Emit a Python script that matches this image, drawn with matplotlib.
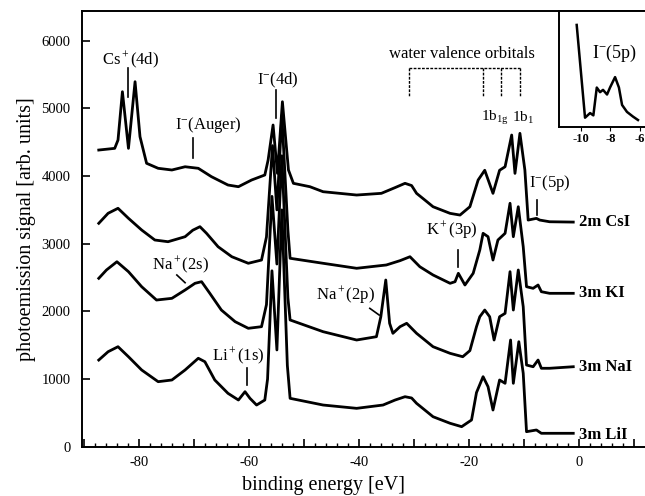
#!/usr/bin/env python3
"""
Valence / shallow-core photoemission spectra of aqueous alkali iodides.
Recreated from the published figure; values read off the plot.
"""
import numpy as np
import matplotlib.pyplot as plt

plt.rcParams["font.family"] = ["Liberation Serif", "DejaVu Serif"]
plt.rcParams["mathtext.fontset"] = "custom"
plt.rcParams["mathtext.rm"] = "Liberation Serif"
plt.rcParams["mathtext.it"] = "Liberation Serif:italic"
plt.rcParams["mathtext.bf"] = "Liberation Serif:bold"
plt.rcParams["axes.unicode_minus"] = False

# --- Spectra (binding energy [eV], signal [arb. units]) ---
csi_e = [-87.4, -84.5, -83.9, -83.1, -82.0, -80.8, -79.9, -78.7, -76.6, -74.1,
         -71.7, -69.3, -66.9, -63.9, -62.0, -59.6, -57.2, -56.6, -55.7, -54.9,
         -54.0, -52.9, -52.0, -49.0, -46.6, -40.5, -36.0, -33.5, -31.7, -30.5,
         -29.6, -28.0, -26.6, -23.5, -21.7, -19.9, -18.4, -17.2, -15.7, -14.5,
         -13.5, -12.3, -11.7, -10.8, -9.9, -9.3, -7.8, -7.2, -5.4, -1.1]
csi_i = [4385, 4410, 4533, 5247, 4410, 5395, 4582, 4189, 4115, 4090,
         4138, 4115, 3991, 3868, 3843, 3942, 4016, 4237, 4755, 4040,
         5099, 4090, 3893, 3843, 3769, 3720, 3745, 3830, 3893, 3860,
         3745, 3640, 3547, 3449, 3424, 3547, 3942, 4086, 3745, 4086,
         4138, 4607, 4040, 4632, 4090, 3350, 3375, 3350, 3325, 3320]

ki_e = [-87.4, -85.7, -83.9, -82.0, -79.6, -77.2, -74.8, -71.7, -70.3, -69.0,
        -67.8, -65.7, -63.2, -60.2, -57.8, -56.9, -55.8, -55.0, -54.1, -53.0,
        -52.6, -46.6, -40.5, -35.1, -32.6, -30.8, -29.0, -26.6, -23.5, -22.6,
        -22.0, -20.8, -19.3, -18.1, -17.5, -16.6, -15.7, -14.8, -13.5, -12.6,
        -12.0, -11.1, -10.2, -9.6, -8.4, -7.5, -6.9, -5.4, -1.1]
ki_i = [3302, 3450, 3524, 3376, 3203, 3055, 3030, 3104, 3200, 3252,
        3154, 2956, 2808, 2711, 2759, 3100, 4450, 3500, 4900, 3200,
        2785, 2711, 2637, 2686, 2750, 2808, 2660, 2538, 2415, 2439,
        2563, 2390, 2563, 2907, 3154, 3104, 2759, 3055, 3154, 3598,
        3104, 3547, 2956, 2365, 2341, 2390, 2291, 2267, 2267]

nai_e = [-87.4, -86.0, -84.1, -82.0, -79.6, -76.9, -74.1, -71.7, -69.9, -68.7,
         -67.2, -65.1, -62.6, -60.2, -57.8, -56.9, -55.9, -55.0, -54.1, -53.0,
         -52.6, -46.6, -40.5, -36.9, -36.1, -35.2, -34.5, -33.9, -32.6, -31.4,
         -29.6, -26.6, -23.5, -21.2, -19.9, -18.7, -18.1, -17.2, -16.3, -15.5,
         -14.5, -13.5, -12.6, -12.0, -11.1, -10.2, -9.6, -8.4, -7.5, -6.9,
         -5.4, -1.1]
nai_i = [2489, 2612, 2734, 2587, 2365, 2168, 2193, 2316, 2415, 2439,
         2267, 2020, 1848, 1750, 1774, 2100, 3700, 2700, 4300, 2200,
         1873, 1700, 1577, 1626, 1921, 2464, 1824, 1676, 1774, 1824,
         1676, 1478, 1380, 1330, 1420, 1774, 1921, 2020, 1921, 1577,
         1921, 1971, 2587, 2020, 2612, 2069, 1207, 1182, 1281, 1159,
         1159, 1182]

lii_e = [-87.4, -85.7, -83.9, -82.0, -79.6, -76.6, -74.1, -71.7, -69.3, -68.1,
         -66.3, -63.9, -62.0, -60.8, -59.9, -58.7, -57.2, -56.7, -55.9, -55.0,
         -54.1, -53.1, -52.6, -46.6, -40.5, -35.7, -33.5, -31.7, -30.5, -29.6,
         -26.6, -23.5, -21.4, -19.6, -18.7, -17.5, -16.6, -15.7, -14.5, -13.5,
         -12.5, -12.0, -11.0, -10.2, -9.6, -7.8, -6.9, -1.1]
lii_i = [1281, 1404, 1478, 1330, 1134, 961, 986, 1134, 1307, 1256,
         986, 789, 690, 813, 715, 616, 690, 1000, 2600, 1430,
         3500, 1200, 715, 616, 567, 616, 690, 739, 720, 641,
         443, 346, 296, 395, 800, 1035, 887, 542, 986, 937,
         1577, 937, 1552, 1085, 222, 247, 198, 198]

# inset: I-(5p) region, CsI
inset_e = [-10.26, -9.70, -9.36, -9.14, -8.91, -8.69, -8.49, -8.22, -8.02,
           -7.68, -7.42, -7.21, -6.88, -6.48, -6.14]
inset_i = [88, 8, 12, 10, 34, 30, 32, 28, 34, 43, 34, 19, 13, 9, 6]

spectra = [(csi_e, csi_i, "2m CsI", 3321), (ki_e, ki_i, "3m KI", 2267),
           (nai_e, nai_i, "3m NaI", 1182), (lii_e, lii_i, "3m LiI", 173)]

fig = plt.figure(figsize=(6.45, 4.96), dpi=100)
ax = fig.add_axes([0.1267, 0.0994, 0.878, 0.8784])

for e, i, name, ylab in spectra:
    ax.plot(e, i, color="black", lw=2.0, solid_joinstyle="round")
    ax.text(-0.1, ylab, name, fontsize=12, fontweight="bold", ha="left", va="center")

ax.set_xlim(-90.5, 12.5)
ax.set_ylim(0, 6440)
xt = np.arange(-90, 11, 10)
ax.set_xticks(xt)
ax.set_xticklabels([str(v) if v % 20 == 0 else "" for v in xt])
ax.set_xticks(np.arange(-90, 12, 2), minor=True)
ax.set_yticks(np.arange(0, 6001, 1000))
ax.tick_params(axis="both", which="both", direction="in", labelsize=10.5)
ax.tick_params(axis="both", which="major", length=6, width=1.2)
ax.tick_params(axis="x", which="major", pad=7)
ax.tick_params(axis="y", which="major", pad=8)
ax.tick_params(axis="x", which="minor", length=3, width=1.0)
ax.tick_params(axis="y", which="minor", left=False)
for s in ax.spines.values():
    s.set_linewidth(1.4)
ax.spines["right"].set_visible(False)

ax.set_ylabel("photoemission signal [arb. units]", fontsize=14.5, labelpad=4)
fig.text(323 / 645, 0.022, "binding energy [eV]", fontsize=14.5, ha="center", va="center")

# peak labels with marker ticks
lab_fs = 12
ax.text(-81.7, 5715, r"Cs$^+$(4d)", fontsize=lab_fs, ha="center", va="center")
ax.plot([-82.1, -82.1], [5593, 5173], color="black", lw=1.2)
ax.text(-67.5, 4755, r"I$^{-}$(Auger)", fontsize=lab_fs, ha="center", va="center")
ax.plot([-70.2, -70.2], [4558, 4263], color="black", lw=1.2)
ax.text(-54.9, 5420, r"I$^{-}$(4d)", fontsize=lab_fs, ha="center", va="center")
ax.plot([-55.1, -55.1], [5272, 4854], color="black", lw=1.2)
ax.text(-5.4, 3898, r"I$^{-}$(5p)", fontsize=lab_fs, ha="center", va="center")
ax.plot([-7.7, -7.7], [3646, 3424], color="black", lw=1.2)
ax.text(-23.2, 3203, r"K$^+$(3p)", fontsize=lab_fs, ha="center", va="center")
ax.plot([-22.0, -22.0], [2907, 2660], color="black", lw=1.2)
ax.text(-72.5, 2686, r"Na$^+$(2s)", fontsize=lab_fs, ha="center", va="center")
ax.plot([-73.2, -71.7], [2538, 2424], color="black", lw=1.2)
ax.text(-42.6, 2242, r"Na$^+$(2p)", fontsize=lab_fs, ha="center", va="center")
ax.plot([-38.1, -36.4], [2045, 1946], color="black", lw=1.2)
ax.text(-62.1, 1330, r"Li$^+$(1s)", fontsize=lab_fs, ha="center", va="center")
ax.plot([-60.5, -60.5], [1159, 912], color="black", lw=1.2)

# water valence orbitals bracket
ax.text(-21.4, 5800, "water valence orbitals", fontsize=lab_fs, ha="center", va="center")
ax.plot([-31.0, -10.8], [5602, 5602], color="black", lw=1.0, ls=(0, (2, 1)))
for xv in [-31.0, -17.5, -14.3, -10.8]:
    ax.plot([xv, xv], [5602, 5173], color="black", lw=1.0, ls=(0, (2, 1)))
ax.text(-15.4, 4858, r"1b$_{\mathrm{1g}}$", fontsize=11, ha="center", va="center")
ax.text(-10.3, 4858, r"1b$_1$", fontsize=11, ha="center", va="center")

# inset
axi = fig.add_axes([559 / 645, 0.744, 0.1395, 0.2338])
axi.plot(inset_e, inset_i, color="black", lw=1.8)
axi.set_xlim(-11.45, -5.4)
axi.set_ylim(0, 100)
axi.set_xticks([-10, -8, -6])
axi.set_yticks([])
axi.tick_params(axis="x", direction="out", length=3, labelsize=9, pad=1)
for lbl in axi.get_xticklabels():
    lbl.set_fontweight("bold")
for s in axi.spines.values():
    s.set_linewidth(1.4)
axi.spines["right"].set_visible(False)
axi.text(-7.75, 63, r"I$^{-}$(5p)", fontsize=13, ha="center", va="center")

fig.savefig("out.png", dpi=100)
